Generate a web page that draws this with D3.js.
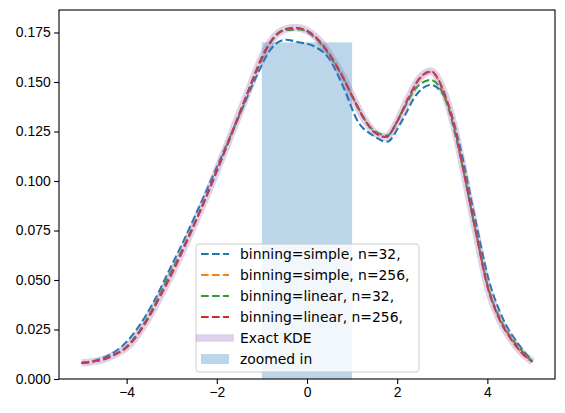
<!DOCTYPE html>
<html lang="en">
  <head>
    <meta charset="utf-8" />
    <title>KDE binning comparison</title>
    <script type="text/javascript" src="https://d3js.org/d3.v7.min.js"></script>
    <style>
      body { margin: 0; background: #fff; }
      svg { font-family: "DejaVu Sans", sans-serif; }
      .axis path, .axis line { stroke: #000; stroke-width: 1.1px; }
      .axis text { font-size: 13.9px; fill: #000; }
      .legend text { font-size: 13.9px; fill: #000; }
    </style>
  </head>
  <body>
    <script>
      // fine grid for exact KDE and the n=256 curves
      let xFine = d3.range(41).map((i) => -5 + i * 0.25);
      let exactKde = [
        0.0081, 0.0088, 0.0100, 0.0125, 0.0160, 0.0225, 0.0315, 0.0420, 0.0530,
        0.0652, 0.0780, 0.0912, 0.1052, 0.1195, 0.1340, 0.1485, 0.1625, 0.1722,
        0.1765, 0.1775, 0.1760, 0.1715, 0.1640, 0.1545, 0.1430, 0.1320, 0.1245,
        0.1222, 0.1300, 0.1420, 0.1520, 0.1555, 0.1470, 0.1290, 0.1020, 0.0736,
        0.0470, 0.0310, 0.0210, 0.0135, 0.0087
      ];
      let simple256 = [
        0.0081, 0.0088, 0.0100, 0.0125, 0.0161, 0.0226, 0.0316, 0.0421, 0.0531,
        0.0652, 0.0780, 0.0912, 0.1052, 0.1195, 0.1340, 0.1484, 0.1624, 0.1720,
        0.1763, 0.1772, 0.1757, 0.1712, 0.1638, 0.1544, 0.1430, 0.1320, 0.1246,
        0.1224, 0.1300, 0.1418, 0.1517, 0.1552, 0.1468, 0.1290, 0.1021, 0.0738,
        0.0471, 0.0311, 0.0211, 0.0135, 0.0087
      ];
      let linear256 = [
        0.0081, 0.0088, 0.0100, 0.0125, 0.0160, 0.0225, 0.0315, 0.0420, 0.0530,
        0.0652, 0.0780, 0.0912, 0.1052, 0.1195, 0.1340, 0.1485, 0.1625, 0.1722,
        0.1765, 0.1774, 0.1759, 0.1714, 0.1640, 0.1545, 0.1430, 0.1320, 0.1245,
        0.1222, 0.1300, 0.1420, 0.1520, 0.1554, 0.1470, 0.1290, 0.1020, 0.0736,
        0.0470, 0.0310, 0.0210, 0.0135, 0.0087
      ];

      // coarse grid (n=32)
      let xCoarse = d3.range(32).map((i) => -5 + (i * 10) / 31);
      let simple32 = [
        0.0082, 0.0095, 0.0125, 0.0180, 0.0272, 0.0395, 0.0545, 0.0695, 0.0855,
        0.1020, 0.1188, 0.1357, 0.1525, 0.1665, 0.1713, 0.1700, 0.1680, 0.1620,
        0.1475, 0.1300, 0.1232, 0.1198, 0.1300, 0.1434, 0.1485, 0.1420, 0.1180,
        0.0830, 0.0500, 0.0300, 0.0180, 0.0090
      ];
      let linear32 = [
        0.0081, 0.0092, 0.0115, 0.0157, 0.0245, 0.0370, 0.0520, 0.0665, 0.0825,
        0.0995, 0.1178, 0.1360, 0.1550, 0.1700, 0.1762, 0.1765, 0.1727, 0.1640,
        0.1518, 0.1372, 0.1260, 0.1230, 0.1345, 0.1470, 0.1510, 0.1415, 0.1140,
        0.0782, 0.0452, 0.0272, 0.0166, 0.0087
      ];

      let xTicks = [-4, -2, 0, 2, 4];
      let yTicks = [0, 0.025, 0.05, 0.075, 0.1, 0.125, 0.15, 0.175];

      let zoomBar = { x0: -1, x1: 1, height: 0.17 };

      let w = 565;
      let h = 413;
      let margin = { left: 59, right: 10, top: 10, bottom: 34 };

      let svg = d3.select("body").append("svg").attr("width", w).attr("height", h);

      let x = d3.scaleLinear().domain([-5.5, 5.5]).range([margin.left, w - margin.right]);
      let y = d3.scaleLinear().domain([0, 0.18636]).range([h - margin.bottom, margin.top]);

      // zoomed-in bar (patches sit under the lines)
      svg
        .append("rect")
        .attr("x", x(zoomBar.x0))
        .attr("y", y(zoomBar.height))
        .attr("width", x(zoomBar.x1) - x(zoomBar.x0))
        .attr("height", y(0) - y(zoomBar.height))
        .attr("fill", "#1f77b4")
        .attr("fill-opacity", 0.3);

      let series = [
        { label: "binning=simple, n=32,", xs: xCoarse, ys: simple32, color: "#1f77b4" },
        { label: "binning=simple, n=256,", xs: xFine, ys: simple256, color: "#ff7f0e" },
        { label: "binning=linear, n=32,", xs: xCoarse, ys: linear32, color: "#2ca02c" },
        { label: "binning=linear, n=256,", xs: xFine, ys: linear256, color: "#d62728" }
      ];

      series.forEach((s) => {
        let line = d3
          .line()
          .x((d, i) => x(s.xs[i]))
          .y((d) => y(d))
          .curve(d3.curveMonotoneX);
        svg
          .append("path")
          .attr("d", line(s.ys))
          .attr("fill", "none")
          .attr("stroke", s.color)
          .attr("stroke-width", 2.08)
          .attr("stroke-dasharray", "7.7,3.3");
      });

      let exactLine = d3
        .line()
        .x((d, i) => x(xFine[i]))
        .y((d) => y(d))
        .curve(d3.curveMonotoneX);
      svg
        .append("path")
        .attr("d", exactLine(exactKde))
        .attr("fill", "none")
        .attr("stroke", "#9467bd")
        .attr("stroke-opacity", 0.3)
        .attr("stroke-width", 7.5);

      // axes
      let fmtX = (d) => (d < 0 ? "\u2212" + Math.abs(d) : "" + d);
      svg
        .append("g")
        .attr("class", "x axis")
        .attr("transform", `translate(0,${h - margin.bottom})`)
        .call(d3.axisBottom(x).tickValues(xTicks).tickFormat(fmtX).tickSize(4.9).tickPadding(3.5))
        .call((g) => g.select(".domain").remove());

      svg
        .append("g")
        .attr("class", "y axis")
        .attr("transform", `translate(${margin.left},0)`)
        .call(d3.axisLeft(y).tickValues(yTicks).tickFormat(d3.format(".3f")).tickSize(4.9).tickPadding(3.5))
        .call((g) => g.select(".domain").remove());

      // frame
      svg
        .append("rect")
        .attr("x", margin.left)
        .attr("y", margin.top)
        .attr("width", w - margin.left - margin.right)
        .attr("height", h - margin.top - margin.bottom)
        .attr("fill", "none")
        .attr("stroke", "#000")
        .attr("stroke-width", 1.1);

      // legend
      let lg = svg.append("g").attr("class", "legend").attr("transform", "translate(196,244)");
      lg.append("rect")
        .attr("width", 223)
        .attr("height", 128)
        .attr("rx", 3)
        .attr("fill", "#fff")
        .attr("fill-opacity", 0.8)
        .attr("stroke", "#cccccc")
        .attr("stroke-width", 1);

      let entries = series.map((s) => ({ label: s.label, type: "dash", color: s.color }));
      entries.push({ label: "Exact KDE", type: "thick", color: "#9467bd" });
      entries.push({ label: "zoomed in", type: "patch", color: "#1f77b4" });

      entries.forEach((e, i) => {
        let cy = 10 + i * 21;
        if (e.type === "dash") {
          lg.append("line")
            .attr("x1", 5).attr("x2", 33).attr("y1", cy).attr("y2", cy)
            .attr("stroke", e.color).attr("stroke-width", 2.08)
            .attr("stroke-dasharray", "7.7,3.3");
        } else if (e.type === "thick") {
          lg.append("line")
            .attr("x1", 0).attr("x2", 38).attr("y1", cy).attr("y2", cy)
            .attr("stroke", e.color).attr("stroke-opacity", 0.3).attr("stroke-width", 7.5);
        } else {
          lg.append("rect")
            .attr("x", 5).attr("y", cy - 5).attr("width", 28).attr("height", 10)
            .attr("fill", e.color).attr("fill-opacity", 0.3);
        }
        lg.append("text")
          .attr("x", 44)
          .attr("y", cy)
          .attr("dy", "0.35em")
          .text(e.label);
      });
    </script>
  </body>
</html>
